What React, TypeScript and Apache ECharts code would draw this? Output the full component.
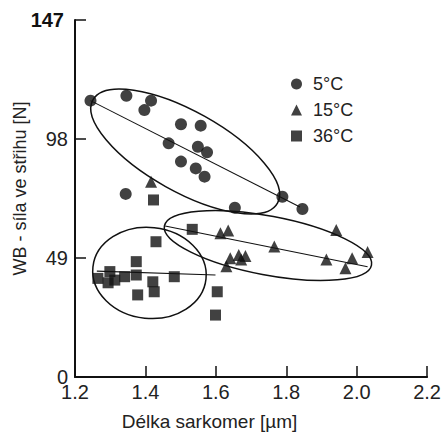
import React, { useEffect, useRef } from "react";
import * as echarts from "echarts";

const seriesNames = ["5°C", "15°C", "36°C"];

const circles5: [number, number][] = [
  [1.244, 113.8], [1.346, 115.8], [1.397, 109.9], [1.416, 113.8],
  [1.501, 104.1], [1.557, 103.5], [1.466, 96.2], [1.549, 94.8],
  [1.575, 92.5], [1.501, 88.7], [1.543, 85.9], [1.568, 82.5],
  [1.344, 75.4], [1.789, 74.2], [1.654, 69.7], [1.846, 69.2],
];

const triangles15: [number, number][] = [
  [1.416, 80.4], [1.613, 59.2], [1.635, 60.3], [1.942, 60.5],
  [1.766, 53.7], [2.031, 51.5], [1.641, 48.9], [1.665, 50.2],
  [1.684, 49.8], [1.672, 48.4], [1.914, 48.4], [1.987, 48.9],
  [1.968, 44.8], [1.63, 45.6],
];

const squares36: [number, number][] = [
  [1.423, 72.9], [1.533, 60.8], [1.43, 55.7], [1.374, 47.5],
  [1.265, 40.6], [1.299, 43.4], [1.313, 39.9], [1.341, 41.3],
  [1.374, 42.0], [1.378, 33.8], [1.421, 39.2], [1.425, 35.1],
  [1.482, 41.3], [1.604, 35.1], [1.599, 25.5], [1.294, 38.8],
];

// regression lines: [x1, y1], [x2, y2]
const line5: [number, number][] = [[1.244, 113.8], [1.839, 70.0]];
const line15: [number, number][] = [[1.456, 62.2], [2.031, 45.4]];
const line36: [number, number][] = [[1.262, 43.6], [1.599, 42.0]];

// ellipses: major-axis endpoints in data coords [x1, y1, x2, y2]
const ellipseAxes: number[][] = [
  [1.251, 114.1, 1.775, 71.6],
  [1.454, 62.2, 2.042, 46.1],
  [1.251, 45.3, 1.572, 40.4],
];
// minor/major axis ratio of each ellipse
const ellipseRatios = [0.38, 0.28, 0.8];

const yTicks = [0, 49, 98, 147];
const xTickMin = 1.2;
const xTickMax = 2.2;

const FONT = "'Liberation Sans', Arial, Helvetica, sans-serif";
const INK = "#111";

export default function App() {
  const ref = useRef<HTMLDivElement>(null);

  useEffect(() => {
    if (!ref.current) return;
    document.body.style.margin = "0";
    const chart = echarts.init(ref.current, undefined, { renderer: "svg" });

    const lineSeries = (data: [number, number][]) => ({
      type: "line",
      data,
      symbol: "none",
      lineStyle: { color: INK, width: 1.1 },
      silent: true,
      z: 1,
    });

    const yMax = yTicks[yTicks.length - 1];

    chart.setOption({
      animation: false,
      backgroundColor: "#fff",
      textStyle: { fontFamily: FONT },
      grid: { left: 75, right: 14, top: 20, bottom: 57, containLabel: false },
      xAxis: {
        type: "value",
        min: xTickMin,
        max: xTickMax,
        interval: 0.2,
        axisLine: { lineStyle: { color: INK, width: 2 } },
        axisTick: { show: true, inside: true, length: 11, lineStyle: { color: INK, width: 1.5 } },
        splitLine: { show: false },
        axisLabel: {
          color: "#222",
          fontSize: 20,
          fontFamily: FONT,
          margin: 5,
          formatter: (v: number) => v.toFixed(1),
        },
      },
      yAxis: {
        type: "value",
        min: yTicks[0],
        max: yMax,
        interval: 49,
        axisLine: { show: true, lineStyle: { color: INK, width: 2 } },
        axisTick: { show: true, inside: true, length: 11, lineStyle: { color: INK, width: 1.5 } },
        splitLine: { show: false },
        axisLabel: {
          color: "#222",
          fontSize: 20,
          fontFamily: FONT,
          margin: 7,
          formatter: (v: number) => (v === yMax ? `{top|${v}}` : `${v}`),
          rich: {
            top: {
              fontSize: 20,
              fontWeight: "bold",
              color: "#111",
              fontFamily: FONT,
              padding: [0, 4, 0, 0],
            },
          },
        },
      },
      legend: {
        orient: "vertical",
        left: 286,
        top: 70,
        itemWidth: 11,
        itemHeight: 11,
        itemGap: 8,
        textStyle: { color: "#222", fontSize: 18, fontFamily: FONT, padding: [0, 0, 0, 6] },
        data: [
          { name: seriesNames[0], icon: "circle" },
          { name: seriesNames[1], icon: "triangle" },
          { name: seriesNames[2], icon: "rect" },
        ],
      },
      graphic: [
        {
          type: "text",
          x: 209.5,
          y: 421,
          style: {
            text: "Délka sarkomer [µm]",
            fontSize: 19,
            fontFamily: FONT,
            fill: "#222",
            textAlign: "center",
            textVerticalAlign: "middle",
          },
        },
        {
          type: "text",
          x: 20,
          y: 188.5,
          rotation: Math.PI / 2,
          style: {
            text: "WB - síla ve střihu [N]",
            fontSize: 18,
            fontFamily: FONT,
            fill: "#222",
            textAlign: "center",
            textVerticalAlign: "middle",
          },
        },
      ],
      series: [
        {
          name: seriesNames[0],
          type: "scatter",
          symbol: "circle",
          symbolSize: 12,
          itemStyle: { color: INK },
          data: circles5,
          z: 3,
        },
        {
          name: seriesNames[1],
          type: "scatter",
          symbol: "triangle",
          symbolSize: 12,
          itemStyle: { color: INK },
          data: triangles15,
          z: 3,
        },
        {
          name: seriesNames[2],
          type: "scatter",
          symbol: "rect",
          symbolSize: 11,
          itemStyle: { color: INK },
          data: squares36,
          z: 3,
        },
        lineSeries(line5),
        lineSeries(line15),
        lineSeries(line36),
        {
          type: "custom",
          silent: true,
          z: 2,
          encode: { x: [0, 2], y: [1, 3] },
          data: ellipseAxes,
          renderItem: (params: any, api: any) => {
            const p1 = api.coord([api.value(0), api.value(1)]);
            const p2 = api.coord([api.value(2), api.value(3)]);
            const dx = p2[0] - p1[0];
            const dy = p2[1] - p1[1];
            const a = Math.sqrt(dx * dx + dy * dy) / 2;
            const b = a * ellipseRatios[params.dataIndex];
            return {
              type: "ellipse",
              x: (p1[0] + p2[0]) / 2,
              y: (p1[1] + p2[1]) / 2,
              rotation: -Math.atan2(dy, dx),
              shape: { cx: 0, cy: 0, rx: a, ry: b },
              style: { fill: "none", stroke: INK, lineWidth: 1.5 },
            };
          },
        },
      ],
    });

    return () => chart.dispose();
  }, []);

  return <div ref={ref} style={{ width: 444, height: 434 }} />;
}
